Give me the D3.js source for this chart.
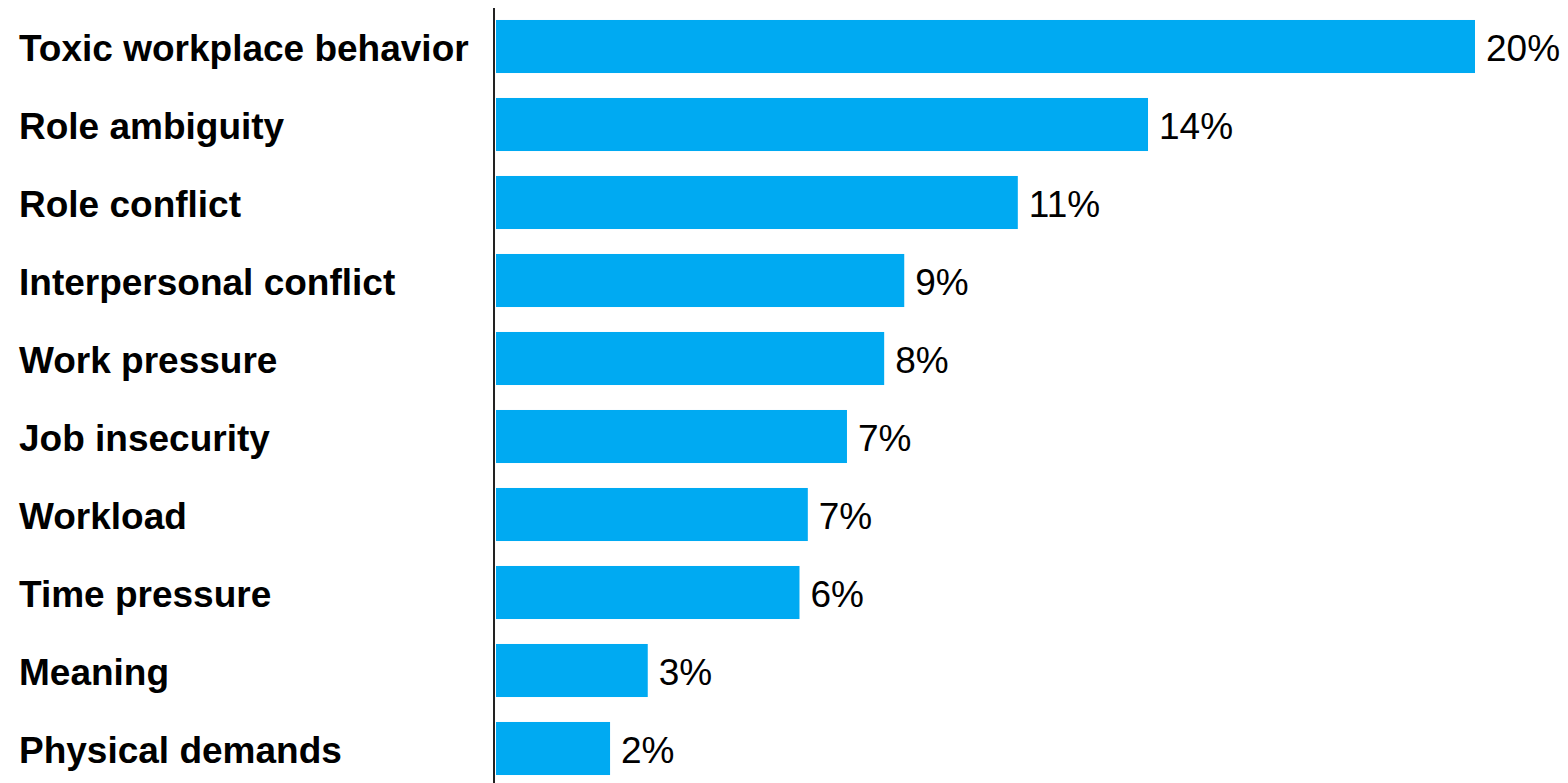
<!DOCTYPE html>
<html>
<head>
<meta charset="utf-8">
<script src="https://cdn.jsdelivr.net/npm/d3@7"></script>
<style>
  body { margin: 0; background: #fff; }
  svg { display: block; }
</style>
</head>
<body>
<div id="chart"></div>
<script>
// categories, top to bottom
var categories = ["Toxic workplace behavior", "Role ambiguity", "Role conflict",
    "Interpersonal conflict", "Work pressure", "Job insecurity", "Workload",
    "Time pressure", "Meaning", "Physical demands"];
// bar lengths (percent)
var values = [20, 13.32, 10.66, 8.34, 7.93, 7.17, 6.37, 6.2, 3.1, 2.33];
// labels printed next to the bars
var valueLabels = ["20%", "14%", "11%", "9%", "8%", "7%", "7%", "6%", "3%", "2%"];

var width = 1568, height = 783;
var axisX = 494;

var svg = d3.select("#chart").append("svg")
    .attr("width", width)
    .attr("height", height);

var x = d3.scaleLinear()
    .domain([0, 20])
    .range([axisX + 2, 1475]);

var y = d3.scaleBand()
    .domain(categories)
    .range([7.5, 787.5])
    .paddingInner(0.32)
    .paddingOuter(0.16);

var rows = categories.map(function(c, i){
    return {name: c, value: values[i], label: valueLabels[i]};
});

//bars
svg.selectAll("rect.bar")
    .data(rows)
    .enter()
    .append("rect")
    .attr("class", "bar")
    .attr("x", x(0))
    .attr("y", function(d){ return y(d.name); })
    .attr("width", function(d){ return x(d.value) - x(0); })
    .attr("height", y.bandwidth())
    .attr("fill", "#00aaf2");

//category names
svg.selectAll("text.cat")
    .data(rows)
    .enter()
    .append("text")
    .attr("class", "cat")
    .attr("x", 19)
    .attr("y", function(d){ return y(d.name) + y.bandwidth() / 2 + 1.5; })
    .attr("dy", "0.35em")
    .attr("font-family", "Liberation Sans, Arial, sans-serif")
    .attr("font-weight", "bold")
    .attr("font-size", "37px")
    .attr("fill", "#000")
    .text(function(d){ return d.name; });

//value labels
svg.selectAll("text.val")
    .data(rows)
    .enter()
    .append("text")
    .attr("class", "val")
    .attr("x", function(d){ return x(d.value) + 11; })
    .attr("y", function(d){ return y(d.name) + y.bandwidth() / 2 + 1.5; })
    .attr("dy", "0.35em")
    .attr("font-family", "Liberation Sans, Arial, sans-serif")
    .attr("font-size", "37px")
    .attr("fill", "#000")
    .text(function(d){ return d.label; });

//vertical axis line
svg.append("line")
    .attr("x1", axisX)
    .attr("x2", axisX)
    .attr("y1", 8)
    .attr("y2", height)
    .attr("stroke", "#222")
    .attr("stroke-width", 2);
</script>
</body>
</html>
